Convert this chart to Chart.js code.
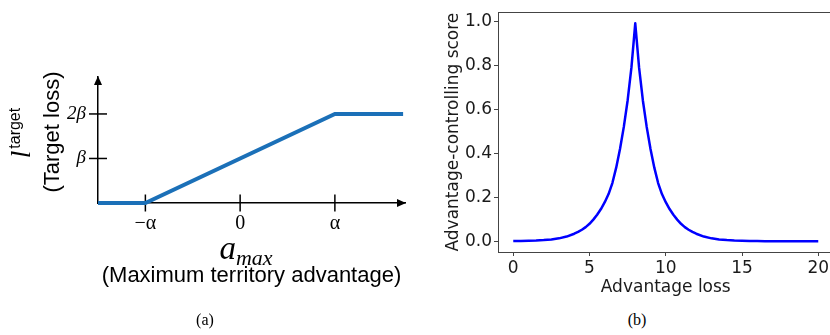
<!DOCTYPE html>
<html><head><meta charset="utf-8">
<script src="https://cdn.jsdelivr.net/npm/chart.js@4.4.0/dist/chart.umd.min.js"></script>
<style>
html,body{margin:0;padding:0;background:#fff;overflow:hidden;width:830px;height:335px;}
#wrap{position:relative;width:830px;height:335px;overflow:hidden;background:#fff;}
.box{position:absolute;top:0;height:300px;}
.lbl{position:absolute;white-space:nowrap;color:#000;line-height:1;}
.c{transform:translate(-50%,-50%);}
.r{transform:translate(-50%,-50%) rotate(-90deg);}
</style></head><body>
<div id="wrap">
  <div class="box" style="left:0;width:420px;"><canvas id="ca"></canvas></div>
  <div class="box" style="left:420px;width:420px;"><canvas id="cb"></canvas></div>
  <div class="lbl r" style="left:21px;top:133px;"><span style="font:italic 27px 'Liberation Serif';">l</span><span style="font:16px 'Liberation Sans';position:relative;top:-10px;margin-left:2px;">target</span></div>
  <div class="lbl r" style="left:52px;top:132px;font:22px 'Liberation Sans';">(Target loss)</div>
  <div class="lbl c" style="left:246px;top:248px;"><span style="font:italic 33px 'Liberation Serif';">a</span><span style="font:italic 22px 'Liberation Serif';position:relative;top:6px;">max</span></div>
  <div class="lbl c" style="left:205px;top:320px;font:16px 'Liberation Serif';">(a)</div>
  <div class="lbl c" style="left:637px;top:320px;font:16px 'Liberation Serif';">(b)</div>
</div>
<script>
// ---- Panel (a): target loss vs maximum territory advantage ----
const aX = [-1.5, -1, 1, 1.72];
const aY = [0, 0, 2, 2];
const aXTicks = [-1, 0, 1];
const aXLabels = ['\u2212\u03B1', '0', '\u03B1'];
const aYTicks = [1, 2];
const aYLabels = ['\u03B2', '2\u03B2'];

// ---- Panel (b): advantage-controlling score vs advantage loss ----
const bX = [0, 0.5, 1, 1.5, 2, 2.5, 3, 3.5, 4,
  4.25, 4.5, 4.75, 5, 5.25, 5.5, 5.75, 6, 6.25, 6.5, 6.75, 7, 7.25, 7.5, 7.75, 8,
  8.25, 8.5, 8.75, 9, 9.25, 9.5, 9.75, 10, 10.25, 10.5, 10.75, 11, 11.25, 11.5, 11.75, 12,
  12.5, 13, 13.5, 14, 14.5, 15, 15.5, 16, 16.5, 17, 17.5, 18, 18.5, 19, 19.5, 20];
const bY = [0.0015, 0.002, 0.003, 0.004, 0.006, 0.009, 0.014, 0.022, 0.035,
  0.043, 0.053, 0.065, 0.080, 0.099, 0.121, 0.147, 0.178, 0.215, 0.265, 0.335, 0.42, 0.52, 0.64, 0.79, 0.99,
  0.79, 0.64, 0.52, 0.42, 0.335, 0.265, 0.215, 0.178, 0.147, 0.121, 0.099, 0.080, 0.065, 0.053, 0.043, 0.035,
  0.022, 0.014, 0.009, 0.006, 0.004, 0.003, 0.002, 0.0015, 0.001, 0.001, 0.001, 0.001, 0.001, 0.001, 0.001, 0.001];
const bXTicks = [0, 5, 10, 15, 20];
const bYTicks = [0, 0.2, 0.4, 0.6, 0.8, 1.0];

const axisDecor = {
  id: 'axisDecor',
  beforeDatasetsDraw(chart) {
    const {ctx, chartArea: a, scales: {x, y}} = chart;
    ctx.save();
    ctx.strokeStyle = '#000';
    ctx.lineWidth = 1.5;
    aXTicks.forEach(v => {
      const px = x.getPixelForValue(v);
      ctx.beginPath(); ctx.moveTo(px, a.bottom - 8.5); ctx.lineTo(px, a.bottom + 8.5); ctx.stroke();
    });
    aYTicks.forEach(v => {
      const py = y.getPixelForValue(v);
      ctx.beginPath(); ctx.moveTo(a.left - 9, py); ctx.lineTo(a.left + 9, py); ctx.stroke();
    });
    ctx.restore();
  },
  afterDraw(chart) {
    const {ctx, chartArea: a} = chart;
    ctx.save();
    ctx.fillStyle = '#000';
    ctx.beginPath();
    ctx.moveTo(a.right + 1, a.bottom); ctx.lineTo(a.right - 8, a.bottom - 4); ctx.lineTo(a.right - 8, a.bottom + 4); ctx.closePath(); ctx.fill();
    ctx.beginPath();
    ctx.moveTo(a.left, a.top - 1); ctx.lineTo(a.left - 4, a.top + 8); ctx.lineTo(a.left + 4, a.top + 8); ctx.closePath(); ctx.fill();
    ctx.restore();
  }
};

new Chart(document.getElementById('ca'), {
  type: 'line',
  data: { datasets: [{
    data: aX.map((v, i) => ({x: v, y: aY[i]})),
    borderColor: '#1b70b8', borderWidth: 4, pointRadius: 0, tension: 0,
    borderJoinStyle: 'miter', borderCapStyle: 'butt', clip: false, fill: false
  }]},
  options: {
    responsive: true, maintainAspectRatio: false, animation: false,
    layout: { padding: { left: 0, top: 77, right: 15, bottom: 0 } },
    plugins: { legend: { display: false }, tooltip: { enabled: false } },
    scales: {
      x: {
        type: 'linear', min: -1.5, max: 1.74,
        afterFit(s) { s.height = 97; },
        afterBuildTicks(s) { s.ticks = aXTicks.map(v => ({value: v})); },
        ticks: { callback: v => aXLabels[aXTicks.indexOf(v)], font: { family: 'Liberation Serif', size: 20 }, color: '#000', padding: 9, maxRotation: 0, autoSkip: false },
        grid: { drawOnChartArea: false, drawTicks: false },
        border: { display: true, color: '#000', width: 1.5 },
        title: { display: true, text: '(Maximum territory advantage)', font: { family: 'Liberation Sans', size: 22 }, color: '#000', padding: { top: 0, bottom: 11 } }
      },
      y: {
        type: 'linear', min: 0, max: 2.83,
        afterFit(s) { s.width = 98; },
        afterBuildTicks(s) { s.ticks = aYTicks.map(v => ({value: v})); },
        ticks: { callback: v => aYLabels[aYTicks.indexOf(v)], font: { family: 'Liberation Serif', size: 19, style: 'italic' }, color: '#000', padding: 12, autoSkip: false },
        grid: { drawOnChartArea: false, drawTicks: false },
        border: { display: true, color: '#000', width: 1.5 }
      }
    }
  },
  plugins: [axisDecor]
});

const txt = '#1a1a1a', spine = '#444';
new Chart(document.getElementById('cb'), {
  type: 'line',
  data: { datasets: [{
    data: bX.map((v, i) => ({x: v, y: bY[i]})),
    borderColor: '#0000ff', borderWidth: 2.5, pointRadius: 0, tension: 0, fill: false,
    borderJoinStyle: 'round', borderCapStyle: 'butt'
  }]},
  options: {
    responsive: true, maintainAspectRatio: false, animation: false,
    layout: { padding: { left: 0, top: 3, right: 6.5, bottom: 0 } },
    plugins: { legend: { display: false }, tooltip: { enabled: false } },
    scales: {
      x: {
        type: 'linear', min: -1, max: 21,
        afterFit(s) { s.height = 48; },
        afterBuildTicks(s) { s.ticks = bXTicks.map(v => ({value: v})); },
        ticks: { callback: v => String(v), font: { family: 'DejaVu Sans', size: 17 }, color: txt, padding: 2, maxRotation: 0, autoSkip: false },
        grid: { drawOnChartArea: false, tickLength: 4, color: spine },
        border: { display: true, color: spine, width: 1 },
        title: { display: true, text: 'Advantage loss', font: { family: 'DejaVu Sans', size: 17 }, color: txt, padding: { top: 0, bottom: 2 } }
      },
      x2: {
        type: 'linear', position: 'top', min: -1, max: 21,
        afterFit(s) { s.height = 0; },
        ticks: { display: false },
        grid: { display: false, drawTicks: false },
        border: { display: true, color: spine, width: 1 }
      },
      y: {
        type: 'linear', min: -0.048, max: 1.0407,
        afterFit(s) { s.width = 78; },
        afterBuildTicks(s) { s.ticks = bYTicks.map(v => ({value: v})); },
        ticks: { callback: v => v.toFixed(1), font: { family: 'DejaVu Sans', size: 17 }, color: txt, padding: 2, autoSkip: false },
        grid: { drawOnChartArea: false, tickLength: 4, color: spine },
        border: { display: true, color: spine, width: 1 },
        title: { display: true, text: 'Advantage-controlling score', font: { family: 'DejaVu Sans', size: 17 }, color: txt, padding: { top: 23, bottom: 0 } }
      }
    }
  }
});
</script>
</body></html>
